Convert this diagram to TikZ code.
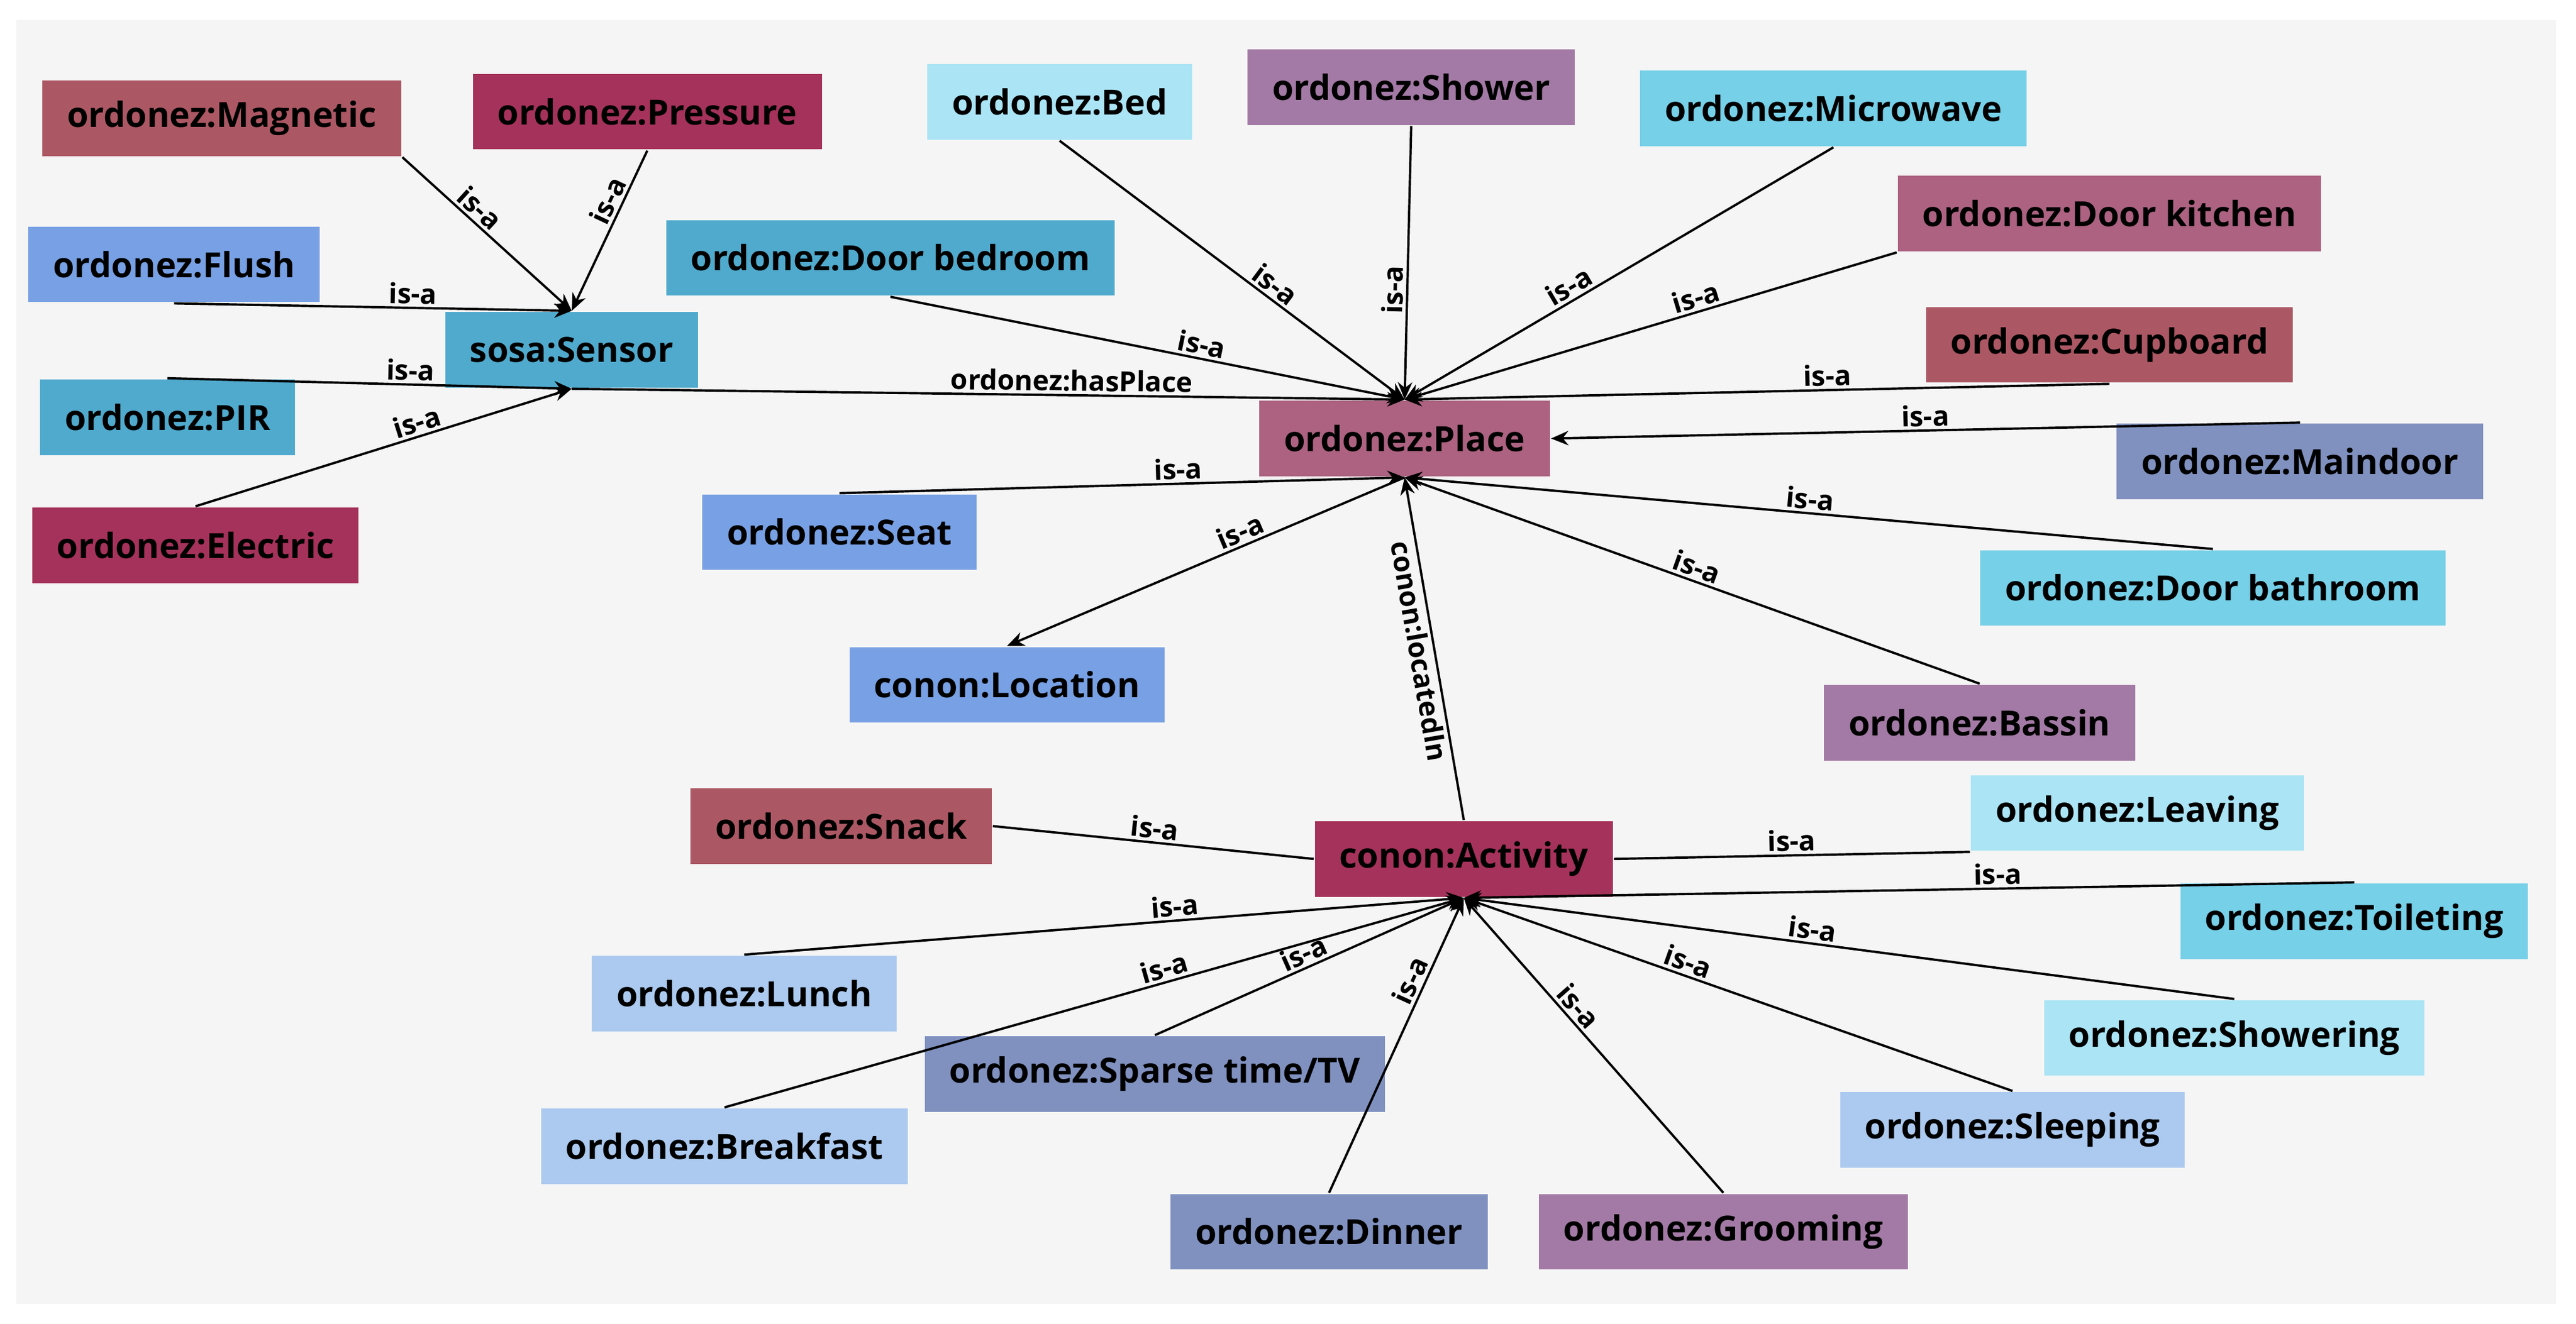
\documentclass[tikz,border=0pt]{standalone}
\usepackage{fontspec}
\setmainfont{Open Sans}
\usepackage{tikz}
\usetikzlibrary{arrows.meta}
\definecolor{dred}{RGB}{172,88,100}
\definecolor{crim}{RGB}{165,50,90}
\definecolor{blu}{RGB}{120,160,228}
\definecolor{teal2}{RGB}{80,170,205}
\definecolor{lcyan}{RGB}{170,228,245}
\definecolor{mauve}{RGB}{163,122,165}
\definecolor{cyan2}{RGB}{118,208,232}
\definecolor{mred}{RGB}{172,98,128}
\definecolor{slate}{RGB}{128,145,192}
\definecolor{lblue}{RGB}{172,202,240}
\begin{document}
\begin{tikzpicture}[x=0.01cm,y=-0.01cm,
    cls/.style={fill=#1,inner xsep=0.15cm,minimum height=0.46cm,
      font=\fontsize{6}{7}\selectfont\bfseries},
    rel/.style={-{Stealth[length=3pt,width=2.5pt]},line width=0.4pt},
    lab/.style={font=\fontsize{4.8}{5}\selectfont\bfseries,sloped,above,inner sep=0.5pt}]
    \useasboundingbox (0,0) rectangle (1568,806);
    \fill[gray!8] (10,12) rectangle (1556,794);
    \newcommand\cls[5]{
      \node[cls=#4] at (#2,#3) (#1) {#5};
    }
    % sensors
    \cls{mag}{135}{72}{dred}{ordonez:Magnetic};
    \cls{pre}{394}{68}{crim}{ordonez:Pressure};
    \cls{flu}{106}{161}{blu}{ordonez:Flush};
    \cls{sen}{348}{213}{teal2}{sosa:Sensor};
    \cls{pir}{102}{254}{teal2}{ordonez:PIR};
    \cls{ele}{119}{332}{crim}{ordonez:Electric};
    % places
    \cls{dbe}{542}{157}{teal2}{ordonez:Door bedroom};
    \cls{bed}{645}{62}{lcyan}{ordonez:Bed};
    \cls{sho}{859}{53}{mauve}{ordonez:Shower};
    \cls{mic}{1116}{66}{cyan2}{ordonez:Microwave};
    \cls{dki}{1284}{130}{mred}{ordonez:Door kitchen};
    \cls{cup}{1284}{210}{dred}{ordonez:Cupboard};
    \cls{pla}{855}{267}{mred}{ordonez:Place};
    \cls{mai}{1400}{281}{slate}{ordonez:Maindoor};
    \cls{sea}{511}{324}{blu}{ordonez:Seat};
    \cls{dba}{1347}{358}{cyan2}{ordonez:Door bathroom};
    \cls{loc}{613}{417}{blu}{conon:Location};
    \cls{bas}{1205}{440}{mauve}{ordonez:Bassin};
    % activities
    \cls{sna}{512}{503}{dred}{ordonez:Snack};
    \cls{act}{891}{523}{crim}{conon:Activity};
    \cls{lea}{1301}{495}{lcyan}{ordonez:Leaving};
    \cls{toi}{1433}{561}{cyan2}{ordonez:Toileting};
    \cls{lun}{453}{605}{lblue}{ordonez:Lunch};
    \cls{shw}{1360}{632}{lcyan}{ordonez:Showering};
    \cls{spa}{703}{654}{slate}{ordonez:Sparse time/TV};
    \cls{bre}{441}{698}{lblue}{ordonez:Breakfast};
    \cls{sle}{1225}{688}{lblue}{ordonez:Sleeping};
    \cls{din}{809}{750}{slate}{ordonez:Dinner};
    \cls{gro}{1049}{750}{mauve}{ordonez:Grooming};
    \draw[rel] (mag.south east) -- node[lab,pos=.4]{is-a} (sen.north);
    \draw[rel] (pre.south) -- node[lab,pos=.35]{is-a} (sen.north);
    \draw[rel] (flu.south) -- node[lab,pos=.6]{is-a} (sen.north);
    \draw[rel] (pir.north) -- node[lab,pos=.6]{is-a} (sen.south);
    \draw[rel] (ele.north) -- node[lab,pos=.6]{is-a} (sen.south);
    \draw[rel] (sen.south) -- node[lab,pos=.6]{ordonez:hasPlace} (pla.north);
    \foreach \c in {bed,sho,mic,dbe}
      \draw[rel] (\c.south) -- node[lab,pos=.6]{is-a} (pla.north);
    \draw[rel] (dki.south west) -- node[lab,pos=.4]{is-a} (pla.north);
    \draw[rel] (cup.south) -- node[lab,pos=.4]{is-a} (pla.north);
    \draw[rel] (sea.north) -- node[lab,pos=.6]{is-a} (pla.south);
    \draw[rel] (mai.north) -- node[lab,pos=.5]{is-a} (pla.east);
    \draw[rel] (dba.north) -- node[lab,pos=.5]{is-a} (pla.south);
    \draw[rel] (bas.north) -- node[lab,pos=.5]{is-a} (pla.south);
    \draw[rel] (pla.south) -- node[lab,pos=.4]{is-a} (loc.north);
    \draw[rel] (act.north) -- node[lab,below]{conon:locatedIn} (pla.south);
    \draw (sna.east) -- node[lab]{is-a} (act.west);
    \draw (lea.south west) -- node[lab]{is-a} (act.east);
    \foreach \c/\p in {toi/.4,shw/.55,sle/.6,gro/.6,din/.7,spa/.5,bre/.6,lun/.6}
      \draw[rel] (\c.north) -- node[lab,pos=\p]{is-a} (act.south);
\end{tikzpicture}
\end{document}
